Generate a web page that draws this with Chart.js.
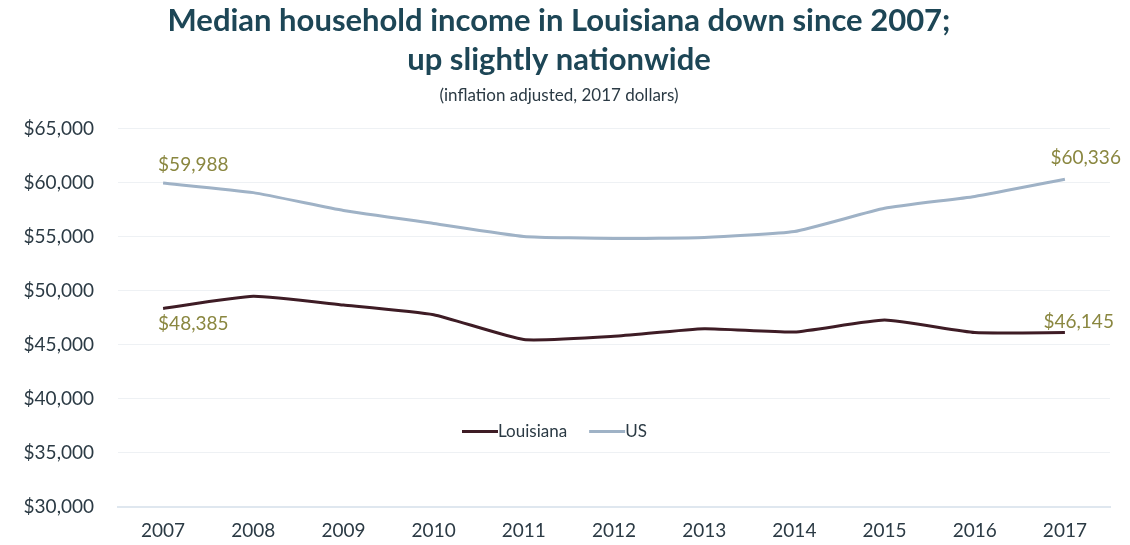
<!DOCTYPE html>
<html>
<head>
<meta charset="utf-8">
<script src="https://cdn.jsdelivr.net/npm/chart.js@4"></script>
<style>
  html, body { margin: 0; padding: 0; background: #fff; }
  #wrap { width: 1130px; height: 545px; }
</style>
</head>
<body>
<div id="wrap"><canvas id="grafico"></canvas></div>
<script>
// dados
const anos = ['2007', '2008', '2009', '2010', '2011', '2012', '2013', '2014', '2015', '2016', '2017'];
const louisiana = [48385, 49500, 48700, 47800, 45500, 45800, 46500, 46200, 47300, 46150, 46145];
const us = [59988, 59100, 57450, 56250, 55050, 54850, 54950, 55500, 57650, 58750, 60336];
const titulo = ['Median household income in Louisiana down since 2007;', 'up slightly nationwide'];
const subtitulo = '(inflation adjusted, 2017 dollars)';

const corTexto = '#2b3a44';
const corRotulo = '#8a8740';
const fmt = v => '$' + v.toLocaleString('en-US');

// rótulos do primeiro e último ponto + legenda dentro da área
const extras = {
    id: 'extras',
    afterDatasetsDraw(chart) {
        const ctx = chart.ctx;
        const x = chart.scales.x, y = chart.scales.y;
        ctx.save();
        ctx.font = '19px Lato';
        ctx.fillStyle = corRotulo;
        ctx.textBaseline = 'middle';
        const ult = anos.length - 1;

        ctx.textAlign = 'left';
        ctx.fillText(fmt(us[0]), x.getPixelForValue(0) - 5, y.getPixelForValue(us[0]) - 18);
        ctx.fillText(fmt(louisiana[0]), x.getPixelForValue(0) - 5, y.getPixelForValue(louisiana[0]) + 15);
        ctx.textAlign = 'right';
        ctx.fillText(fmt(us[ult]), x.getPixelForValue(ult) + 56, y.getPixelForValue(us[ult]) - 21);
        ctx.fillText(fmt(louisiana[ult]), x.getPixelForValue(ult) + 49, y.getPixelForValue(louisiana[ult]) - 11);

        // legenda
        const ly = y.getPixelForValue(37000);
        let lx = 462;
        ctx.font = '17px Lato';
        ctx.fillStyle = corTexto;
        ctx.textAlign = 'left';
        chart.data.datasets.forEach(ds => {
            ctx.strokeStyle = ds.borderColor;
            ctx.lineWidth = 3;
            ctx.beginPath();
            ctx.moveTo(lx, ly);
            ctx.lineTo(lx + 36, ly);
            ctx.stroke();
            ctx.fillText(ds.label, lx + 36, ly);
            lx += 36 + ctx.measureText(ds.label).width + 22;
        });
        ctx.restore();
    }
};

new Chart(document.getElementById('grafico'), {
    type: 'line',
    data: {
        labels: anos,
        datasets: [
            { label: 'Louisiana', data: louisiana, borderColor: '#3e1c25', borderWidth: 3 },
            { label: 'US', data: us, borderColor: '#9fb2c6', borderWidth: 3 }
        ]
    },
    options: {
        responsive: true,
        maintainAspectRatio: false,
        animation: false,
        elements: { point: { radius: 0 }, line: { tension: 0.15 } },
        layout: { padding: { left: 8, right: 20, top: 0, bottom: 0 } },
        plugins: {
            legend: { display: false },
            tooltip: { enabled: false },
            title: {
                display: true,
                text: titulo,
                color: '#1d4656',
                font: { family: 'Lato', size: 31, weight: 'bold', lineHeight: 1.25 },
                padding: { top: 2, bottom: 6 }
            },
            subtitle: {
                display: true,
                text: subtitulo,
                color: corTexto,
                font: { family: 'Lato', size: 17 },
                padding: { top: 0, bottom: 23 }
            }
        },
        scales: {
            x: {
                offset: true,
                afterFit: s => { s.height = 38; },
                grid: { display: false, drawTicks: false },
                border: { color: '#dfe7ef', width: 2 },
                ticks: { color: corTexto, font: { family: 'Lato', size: 19 }, padding: 12 }
            },
            y: {
                min: 30000,
                max: 65000,
                afterFit: s => { s.width = 110; },
                grid: { color: '#eef1f4', drawTicks: false },
                border: { display: false },
                ticks: {
                    stepSize: 5000,
                    color: corTexto,
                    font: { family: 'Lato', size: 19 },
                    padding: 24,
                    callback: v => fmt(v)
                }
            }
        }
    },
    plugins: [extras]
});
</script>
</body>
</html>
